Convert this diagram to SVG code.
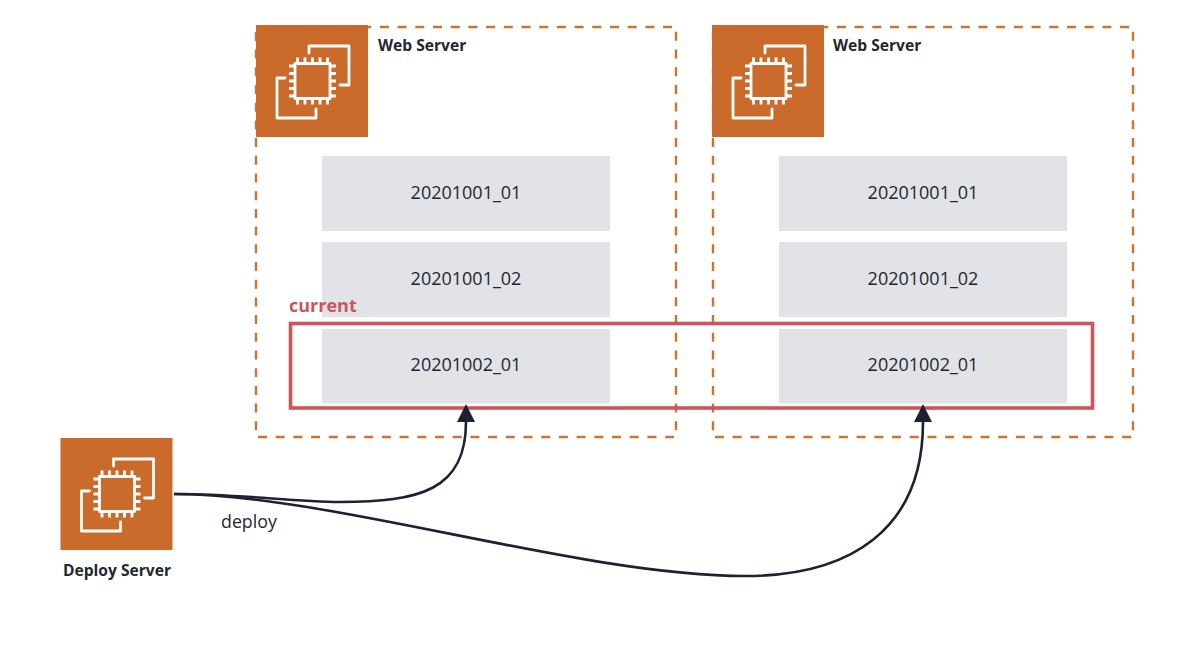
<svg xmlns="http://www.w3.org/2000/svg" width="1200" height="648" viewBox="0 0 1200 648">
<style>
text{font-family:"Open Sans","Liberation Sans",sans-serif;fill:#232730}
.title{font-size:15.6px;font-weight:700}
.ver{font-size:18px;text-anchor:middle}
.group{fill:none;stroke:#cd7331;stroke-width:2.4;stroke-dasharray:9 8.7}
.ver-box{fill:#e1e3e7}
.bg{fill:#ca6b2c}
.ic{fill:none;stroke:#fff;stroke-width:2.8;stroke-linecap:round;stroke-linejoin:round}
.pin{fill:none;stroke:#fff;stroke-width:2.8}
.conn{fill:none;stroke:#1c2233;stroke-width:2.6;marker-end:url(#arrow)}
</style>
<defs>
<marker id="arrow" viewBox="0 0 18 18" refX="0" refY="9" markerUnits="userSpaceOnUse" markerWidth="18" markerHeight="18" orient="auto"><path d="M18 9L0 18V0Z" fill="#1c2233"/></marker>
<g id="ec2">
<rect class="bg" width="112" height="112"/>
<path class="ic" d="M53 28V21H93V60H84M29 53H21V93H60V84"/>
<rect class="ic" x="39" y="38.500" width="35" height="35"/>
<path class="pin" d="M41.500 32.500V38.500M49 32.500V38.500M56.500 32.500V38.500M64 32.500V38.500M71.500 32.500V38.500M41.500 73.500V79.500M49 73.500V79.500M56.500 73.500V79.500M64 73.500V79.500M71.500 73.500V79.500M33 41H39M33 48.500H39M33 56H39M33 63.500H39M33 71H39M74 41H80M74 48.500H80M74 56H80M74 63.500H80M74 71H80"/>
</g>
</defs>
<g id="web-server-1">
<rect class="group" x="256" y="27" width="420" height="410"/>
<use href="#ec2" x="256" y="25"/>
<text class="title" x="378" y="50.500">Web Server</text>
</g>
<g id="web-server-2">
<rect class="group" x="713" y="27" width="420" height="410"/>
<use href="#ec2" x="712" y="25"/>
<text class="title" x="833" y="50.500">Web Server</text>
</g>
<g id="ws1-v1"><rect class="ver-box" x="322" y="156" width="288" height="75"/><text class="ver" x="466" y="198.500">20201001_01</text></g>
<g id="ws1-v2"><rect class="ver-box" x="322" y="242" width="288" height="75"/><text class="ver" x="466" y="284.500">20201001_02</text></g>
<g id="ws1-v3"><rect class="ver-box" x="322" y="329" width="288" height="74.500"/><text class="ver" x="466" y="370.500">20201002_01</text></g>
<g id="ws2-v1"><rect class="ver-box" x="779" y="156" width="288" height="75"/><text class="ver" x="923" y="198.500">20201001_01</text></g>
<g id="ws2-v2"><rect class="ver-box" x="779" y="242" width="288" height="75"/><text class="ver" x="923" y="284.500">20201001_02</text></g>
<g id="ws2-v3"><rect class="ver-box" x="779" y="329" width="288" height="74.500"/><text class="ver" x="923" y="370.500">20201002_01</text></g>
<g id="current">
<rect x="290.500" y="323.500" width="802" height="84.500" fill="none" stroke="#cf5459" stroke-width="3.600"/>
<text x="289" y="311.500" font-size="18" font-weight="700" style="fill:#cf5459">current</text>
</g>
<g id="deploy-server">
<use href="#ec2" x="60.500" y="438"/>
<text class="title" x="117" y="576" text-anchor="middle">Deploy Server</text>
</g>
<g id="connectors">
<path class="conn" d="M174 494C245 494 290 502 340 502C420 502 466 490 466 422"/>
<path class="conn" d="M174 494C330 494 580 576 745 576C850 576 923 530 923 422"/>
<text x="221" y="527.500" font-size="17.800">deploy</text>
</g>
</svg>
